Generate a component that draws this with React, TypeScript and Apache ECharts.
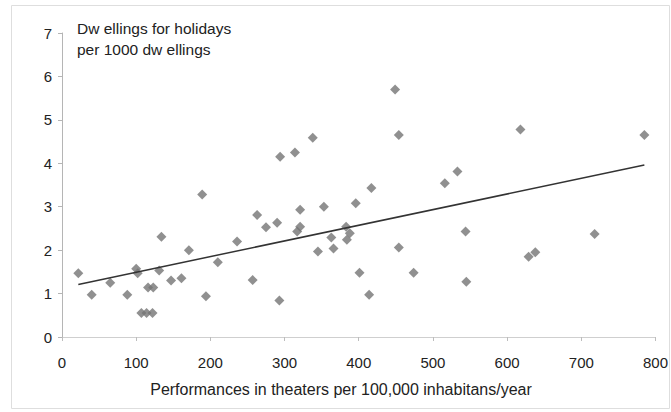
import React, { useEffect, useRef } from "react";
import * as echarts from "echarts";

const xValues = [22, 40, 65, 88, 100, 102, 107, 114, 122, 116, 123, 131, 134, 147, 161, 171, 189, 194, 210, 236, 257, 263, 275, 290, 293, 294, 314, 317, 321, 321, 338, 345, 353, 363, 366, 383, 388, 384, 396, 401, 414, 417, 449, 454, 454, 474, 516, 533, 544, 545, 618, 629, 638, 718, 785];
const yValues = [1.47, 0.97, 1.25, 0.97, 1.57, 1.47, 0.55, 0.55, 0.55, 1.14, 1.14, 1.53, 2.31, 1.3, 1.35, 2.0, 3.28, 0.94, 1.72, 2.2, 1.31, 2.81, 2.53, 2.63, 0.84, 4.15, 4.25, 2.43, 2.54, 2.93, 4.59, 1.97, 3.0, 2.29, 2.04, 2.54, 2.39, 2.24, 3.08, 1.48, 0.97, 3.43, 5.7, 4.65, 2.06, 1.48, 3.54, 3.81, 2.43, 1.27, 4.78, 1.85, 1.95, 2.37, 4.65];
const trendX = [22, 785];
const trendY = [1.21, 3.96];
const titleLines = ["Dw ellings for holidays", "per 1000 dw ellings"];
const xAxisName = "Performances in theaters per 100,000 inhabitans/year";

const FONT = "Liberation Sans, Arial, sans-serif";

export default function App() {
  const ref = useRef<HTMLDivElement>(null);
  useEffect(() => {
    if (!ref.current) return;
    const chart = echarts.init(ref.current, null, { renderer: "svg" });
    chart.setOption({
      animation: false,
      backgroundColor: "#ffffff",
      grid: { left: 62, right: 12, top: 33, bottom: 75 },
      xAxis: {
        type: "value",
        min: 0,
        max: 800,
        interval: 100,
        splitLine: { show: false },
        axisLine: { show: true, onZero: false, lineStyle: { color: "#cfcfcf", width: 1 } },
        axisTick: { show: true, length: 4, lineStyle: { color: "#bdbdbd" } },
        axisLabel: { margin: 18, color: "#222", fontSize: 15, fontFamily: FONT },
      },
      yAxis: {
        type: "value",
        min: 0,
        max: 7,
        interval: 1,
        splitLine: { show: false },
        axisLine: { show: true, lineStyle: { color: "#b5b5b5", width: 1 } },
        axisTick: { show: true, length: 4, lineStyle: { color: "#b5b5b5" } },
        axisLabel: { margin: 10, color: "#222", fontSize: 15, fontFamily: FONT },
      },
      series: [
        {
          type: "scatter",
          symbol: "diamond",
          symbolSize: 10,
          itemStyle: { color: "#747474" },
          data: xValues.map((x, i) => [x, yValues[i]]),
          z: 2,
        },
        {
          type: "line",
          symbol: "none",
          lineStyle: { color: "#333333", width: 1.5 },
          data: trendX.map((x, i) => [x, trendY[i]]),
          z: 3,
        },
      ],
      graphic: [
        {
          type: "rect",
          shape: { x: 11.5, y: 5.5, width: 658, height: 403 },
          style: { fill: "none", stroke: "#dedede", lineWidth: 1 },
          silent: true,
        },
        {
          type: "text",
          left: 77,
          top: 18,
          style: {
            text: titleLines.join("\n"),
            font: `15.5px ${FONT}`,
            fill: "#222",
            lineHeight: 21,
          },
        },
        {
          type: "text",
          x: 341,
          y: 389,
          style: {
            text: xAxisName,
            font: `16px ${FONT}`,
            fill: "#222",
            align: "center",
            verticalAlign: "middle",
          },
        },
      ],
    });
    return () => chart.dispose();
  }, []);
  return (
    <div
      ref={ref}
      style={{ position: "absolute", left: 0, top: 0, width: 671, height: 412 }}
    />
  );
}
